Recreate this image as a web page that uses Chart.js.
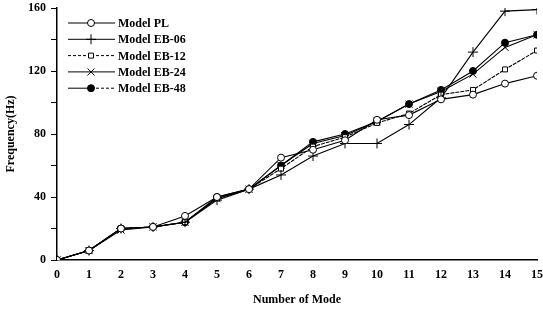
<!DOCTYPE html>
<html>
<head>
<meta charset="utf-8">
<script src="https://cdn.jsdelivr.net/npm/chart.js@4/dist/chart.umd.min.js"></script>
<style>
  html, body { margin: 0; padding: 0; background: #fff; }
  #wrap { width: 543px; height: 311px; }
</style>
</head>
<body>
<div id="wrap"><canvas id="chart"></canvas></div>
<script>
/* ── Data ── */
const modes = [0,1,2,3,4,5,6,7,8,9,10,11,12,13,14,15];
const modelPL   = [0, 6, 20, 21, 28, 40, 45, 65, 70, 76, 89, 92, 102, 105, 112, 117];
const modelEB06 = [0, 6, 20, 21, 24, 38, 45, 54, 66, 74, 74, 86, 103, 132, 158, 159];
const modelEB12 = [0, 6, 20, 21, 24, 39, 45, 58, 72, 78, 87, 93, 105, 108, 121, 133];
const modelEB24 = [0, 6, 19, 21, 24, 39, 45, 60, 74, 79, 88, 99, 107, 118, 135, 143];
const modelEB48 = [0, 6, 20, 21, 24, 40, 45, 60, 75, 80, 88, 99, 108, 120, 138, 143];
const yTicks = [0, 40, 80, 120, 160];

const FONT = "'Liberation Serif', 'DejaVu Serif', serif";

function series(label, values, style, fill, dash, legendDash) {
  return {
    label,
    data: values.map((v, i) => ({ x: modes[i], y: v })),
    borderColor: '#000',
    borderWidth: 1.1,
    borderDash: dash || [],
    pointStyle: style,
    pointRadius: style === 'cross' || style === 'crossRot' ? 5 : 3.5,
    pointBackgroundColor: fill,
    pointBorderColor: '#000',
    pointBorderWidth: 1,
    tension: 0,
    fill: false,
    legendDash: legendDash
  };
}

const datasets = [
  series('Model PL', modelPL, 'circle', '#fff'),
  series('Model EB-06', modelEB06, 'cross', '#000'),
  series('Model EB-12', modelEB12, 'rect', '#fff', [4, 1], [3, 2]),
  series('Model EB-24', modelEB24, 'crossRot', '#000'),
  series('Model EB-48', modelEB48, 'circle', '#000')
];

/* ── Custom legend: line + marker + label ── */
const lineLegend = {
  id: 'lineLegend',
  afterDraw(chart) {
    const ctx = chart.ctx;
    ctx.save();
    chart.data.datasets.forEach((ds, i) => {
      const y = 23 + i * 16.3;
      const x0 = 68, x1 = 115, xm = 91;
      ctx.strokeStyle = '#000';
      ctx.lineWidth = 1;
      // EB-12 dashed both sides, EB-48 dashed only after the marker
      ctx.setLineDash(ds.legendDash || []);
      ctx.beginPath(); ctx.moveTo(x0, y); ctx.lineTo(xm, y); ctx.stroke();
      ctx.setLineDash(ds.legendDash || (i === 4 ? [3, 2] : []));
      ctx.beginPath(); ctx.moveTo(xm, y); ctx.lineTo(x1, y); ctx.stroke();
      ctx.setLineDash([]);
      ctx.fillStyle = ds.pointBackgroundColor;
      Chart.helpers.drawPoint(ctx, {
        pointStyle: ds.pointStyle,
        radius: ds.pointRadius,
        rotation: 0,
        borderWidth: 1
      }, xm, y);
      ctx.fillStyle = '#000';
      ctx.font = 'bold 12px ' + FONT;
      ctx.textBaseline = 'middle';
      ctx.textAlign = 'left';
      ctx.fillText(ds.label, 118, y + 1);
    });
    ctx.restore();
  }
};

new Chart(document.getElementById('chart'), {
  type: 'line',
  data: { datasets },
  plugins: [lineLegend],
  options: {
    responsive: true,
    maintainAspectRatio: false,
    animation: false,
    layout: { padding: { top: 8, right: 5, left: 0, bottom: 0 } },
    plugins: {
      legend: { display: false },
      tooltip: { enabled: false }
    },
    scales: {
      x: {
        type: 'linear',
        min: 0, max: 15,
        grid: { display: false, drawTicks: true, tickLength: 6, color: '#000' },
        border: { color: '#000', width: 1.5 },
        ticks: {
          stepSize: 1, color: '#000', padding: 2,
          font: { family: FONT, size: 12, weight: 'bold' }
        },
        title: {
          display: true, text: 'Number of Mode', color: '#000', padding: { top: 5 },
          font: { family: FONT, size: 12, weight: 'bold' }
        },
        afterFit(s) { s.height = 51; s.paddingLeft = 0; s.paddingRight = 0; }
      },
      y: {
        min: 0, max: 160,
        grid: { display: true, drawOnChartArea: false, tickLength: 6, color: '#000' },
        border: { color: '#000', width: 1.5 },
        ticks: {
          stepSize: 20, color: '#000', padding: 5,
          font: { family: FONT, size: 12, weight: 'bold' },
          callback: v => yTicks.includes(v) ? String(v) : ''
        },
        title: {
          display: true, text: 'Frequency(Hz)', color: '#000', padding: { bottom: 4 },
          font: { family: FONT, size: 12, weight: 'bold' }
        },
        afterFit(s) { s.width = 57; s.paddingTop = 0; s.paddingBottom = 0; }
      }
    }
  }
});
</script>
</body>
</html>
